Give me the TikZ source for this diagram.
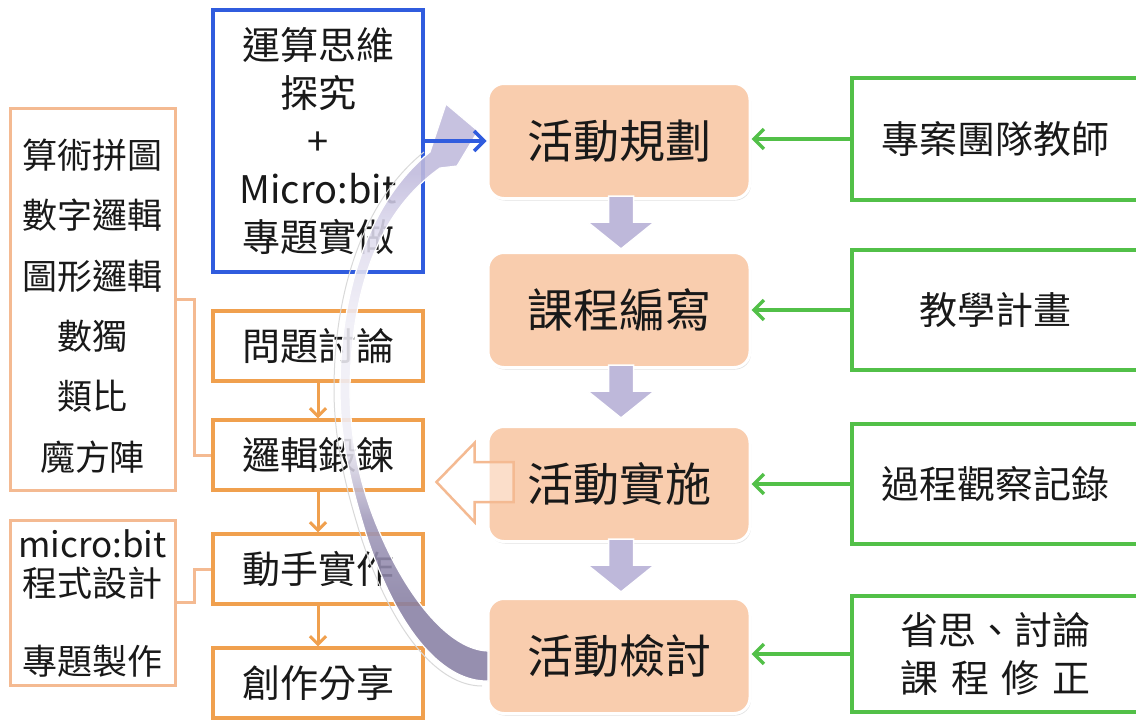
\documentclass[tikz,border=0pt]{standalone}
\usepackage{fontspec}
\setmainfont{Noto Sans CJK TC}
\usetikzlibrary{arrows.meta,calc,shadows}
\definecolor{peach}{RGB}{249,205,174}
\definecolor{peachB}{RGB}{244,186,146}
\definecolor{orangeB}{RGB}{240,160,78}
\definecolor{greenB}{RGB}{82,192,72}
\definecolor{blueB}{RGB}{48,92,222}
\definecolor{lav}{RGB}{190,184,218}
\definecolor{lavT}{RGB}{192,186,220}
\definecolor{lavL}{RGB}{222,219,238}
\definecolor{lavM}{RGB}{240,238,246}
\definecolor{lavD}{RGB}{136,128,164}
\definecolor{lavDM}{RGB}{160,153,186}
\definecolor{txt}{RGB}{25,25,25}
\pgfdeclareverticalshading{bandshade}{100bp}{color(0bp)=(lavD); color(25bp)=(lavD); color(32bp)=(lavD); color(39bp)=(lavDM); color(46bp)=(lavM); color(56bp)=(lavM); color(64bp)=(lavL); color(69bp)=(lavT); color(75bp)=(lavT); color(100bp)=(lavT)}
\begin{document}
\begin{tikzpicture}[x=1pt,y=-1pt,
  every node/.style={text=txt},
  obox/.style={draw=orangeB, line width=3.5, minimum width=210, minimum height=70, inner sep=0, font=\fontsize{38}{46}\selectfont},
  lbox/.style={draw=peachB, line width=3, minimum width=165, inner sep=0},
  ltext/.style={align=center, inner sep=0},
  bbox/.style={draw=blueB, line width=3.5, minimum width=210, minimum height=262, inner sep=0, align=center, font=\fontsize{38}{48}\selectfont},
  pbox/.style={fill=peach, draw=white, line width=3, rounded corners=16, minimum width=262, minimum height=115, inner sep=0, font=\fontsize{46}{50}\selectfont, drop shadow={shadow xshift=1pt, shadow yshift=-2pt, opacity=0.25}},
  gbox/.style={draw=greenB, line width=3.5, minimum width=287, inner sep=0, align=center, font=\fontsize{38}{48}\selectfont},
  garrow/.style={draw=greenB, line width=3.5, -{Straight Barb[length=10, width=20]}},
  barrow/.style={draw=blueB, line width=3.5, -{Straight Barb[length=10, width=20]}},
  oarrow/.style={draw=orangeB, line width=3, -{Straight Barb[length=8, width=16]}},
  bracket/.style={draw=peachB, line width=3},
  lavarrow/.style={fill=lav, draw=white, line width=1.5}
]
\useasboundingbox (0,0) rectangle (1136,720);
\fill[white] (0,0) rectangle (1136,720);

% left boxes
\node[lbox, minimum height=382] (lb1) at (92.5,299) {};
\node[ltext, font=\fontsize{35}{60.4}\selectfont] (lb1t) at (92.5,306) {算術拼圖\\數字邏輯\\圖形邏輯\\數獨\\類比\\魔方陣};
\node[lbox, minimum height=165] (lb2) at (92.5,602.5) {};
\node[ltext, font=\fontsize{35}{39}\selectfont] (lb2t) at (92.5,603.5) {micro:bit\\程式設計\\\mbox{}\\專題製作};

% orange boxes
\node[obox] (o1) at (318,346) {問題討論};
\node[obox] (o2) at (318,455) {邏輯鍛鍊};
\node[obox] (o3) at (318,569) {動手實作};
\node[obox] (o4) at (318,683) {創作分享};
\draw[oarrow] (o1) -- (o2);
\draw[oarrow] (o2) -- (o3);
\draw[oarrow] (o3) -- (o4);

% brackets
\draw[bracket] (lb1.east) -- ++(18,0) |- (o2.west);
\draw[bracket] (lb2.east) -- ++(18,0) |- (o3.west);

% blue box
\node[bbox] (blue) at (318,141) {運算思維\\探究\\+\\Micro:bit\\專題實做};

% peach boxes
\node[pbox] (p1) at (619,141) {活動規劃};
\node[pbox] (p2) at (619,310) {課程編寫};
\node[pbox] (p3) at (619,484) {活動實施};
\node[pbox] (p4) at (619,656) {活動檢討};

% lavender down arrows
\foreach \a/\b in {p1/p2,p2/p3,p3/p4}{
  \path[lavarrow] ($(\a.south)+(-10.5,-4)$) -- ($(\a.south)+(14.5,-4)$) -- ($(\a.south)+(14.5,22)$)
    -- ($(\a.south)+(35.5,22)$) -- ($(\a.south)+(2,49)$) -- ($(\a.south)+(-31.5,22)$)
    -- ($(\a.south)+(-10.5,22)$) -- cycle;
}

% green boxes
\node[gbox, minimum height=122] (g1) at (995.5,139) {專案團隊教師};
\node[gbox, minimum height=120] (g2) at (995.5,310) {教學計畫};
\node[gbox, minimum height=120] (g3) at (995.5,484) {過程觀察記錄};
\node[gbox, minimum height=116] (g4) at (995.5,654) {省思、討論\\課\,\,程\,\,修\,\,正};
\draw[garrow] (g1.west) -- (g1.west -| p1.east);
\draw[garrow] (g2.west) -- (g2.west -| p2.east);
\draw[garrow] (g3.west) -- (g3.west -| p3.east);
\draw[garrow] (g4.west) -- (g4.west -| p4.east);

% hollow orange arrow from p3 to the left
\path[fill=white, fill opacity=0.35, draw=peachB, line width=2.5, line join=miter]
  ($(p3.west)+(27,-22)$) -- ($(p3.west)+(-12,-22)$) -- ($(p3.west)+(-12,-41)$)
  -- ($(p3.west)+(-50,-2)$) -- ($(p3.west)+(-12,38)$) -- ($(p3.west)+(-12,18)$)
  -- ($(p3.west)+(27,18)$) -- cycle;

% big curved arrow from p4 back to p1
\draw[gray!30, line width=1, xshift=-6pt] (488,686) .. controls (445,686) and (400,635) .. (368,540)
  .. controls (352,490) and (340,440) .. (340,390)
  .. controls (340,290) and (370,200) .. (430,152);
\path[shading=bandshade, fill opacity=0.88, draw=white, line width=1.2]
  (488,681) .. controls (445,682) and (400,635) .. (368,540)
  .. controls (352,490) and (340,440) .. (340,390)
  .. controls (340,290) and (370,200) .. (430,152)
  -- (446,104) -- (478,131) -- (457,166) -- (440,168)
  .. controls (378,212) and (351,290) .. (350,390)
  .. controls (350,440) and (360,490) .. (383,540)
  .. controls (410,600) and (450,650) .. (488,651) -- cycle;

% blue arrow
\draw[barrow] (blue.east) -- (blue.east -| p1.west);
\end{tikzpicture}
\end{document}
